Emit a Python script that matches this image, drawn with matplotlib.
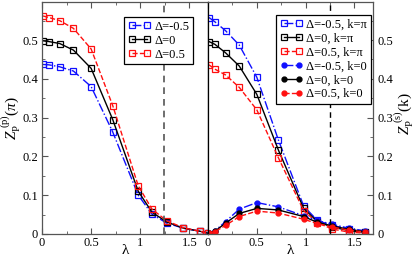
import numpy as np
import matplotlib
matplotlib.use('Agg')
import matplotlib.pyplot as plt
from matplotlib.ticker import MultipleLocator

plt.rcParams['font.family'] = 'serif'
plt.rcParams['font.serif'] = ['Liberation Serif', 'DejaVu Serif']
plt.rcParams['mathtext.fontset'] = 'custom'
plt.rcParams['mathtext.rm'] = 'Liberation Serif'
plt.rcParams['mathtext.it'] = 'Liberation Serif:italic'

# lambda grid (same for both panels)
lam = [0.01, 0.07, 0.18, 0.32, 0.5, 0.72, 0.98, 1.12, 1.27, 1.44, 1.61, 1.69]
lam_r = lam[:11]

# left panel: Z_P^(p)(pi)
zp_m05 = [0.437, 0.436, 0.431, 0.420, 0.380, 0.263, 0.100, 0.051, 0.028, 0.015, 0.007, 0.002]
zp_0 = [0.498, 0.496, 0.491, 0.474, 0.427, 0.295, 0.110, 0.056, 0.031, 0.015, 0.007, 0.002]
zp_p05 = [0.562, 0.558, 0.550, 0.530, 0.477, 0.331, 0.124, 0.064, 0.034, 0.016, 0.007, 0.002]

# right panel: Z_P^(s)(k), k = pi
zs_pi_m05 = [0.558, 0.547, 0.524, 0.487, 0.404, 0.243, 0.072, 0.035, 0.022, 0.013, 0.006]
zs_pi_0 = [0.496, 0.489, 0.467, 0.433, 0.360, 0.217, 0.066, 0.032, 0.018, 0.009, 0.004]
zs_pi_p05 = [0.436, 0.425, 0.410, 0.378, 0.320, 0.197, 0.060, 0.029, 0.013, 0.005, 0.002]

# right panel: k = 0
zs_0_m05 = [0.002, 0.008, 0.032, 0.064, 0.081, 0.070, 0.047, 0.035, 0.025, 0.015, 0.008]
zs_0_0 = [0.002, 0.007, 0.028, 0.053, 0.066, 0.062, 0.045, 0.030, 0.021, 0.012, 0.006]
zs_0_p05 = [0.002, 0.006, 0.022, 0.045, 0.059, 0.054, 0.038, 0.027, 0.018, 0.010, 0.005]

lam_c = 1.245
deltas = ['-0.5', '0', '0.5']
colors = ['#1010ff', 'black', '#ff1010']
styles = ['-.', '-', '--']

fig = plt.figure(figsize=(4.15, 2.61), dpi=100)
ax1 = fig.add_axes([42/415, 27/261, 166/415, 232/261])
ax2 = fig.add_axes([208/415, 27/261, 165/415, 232/261])

sq = dict(marker='s', markersize=4.2, markerfacecolor='none', markeredgewidth=0.9, linewidth=1.0)
ci = dict(marker='o', markersize=3.5, linewidth=1.0)

for y, c, ls, d in zip([zp_m05, zp_0, zp_p05], colors, styles, deltas):
    ax1.plot(lam, y, color=c, linestyle=ls, label='Δ=' + d, **sq)
ax1.axvline(lam_c, color='#555555', linestyle='--', linewidth=1.2, dashes=(4, 3))

for y, c, ls, d in zip([zs_pi_m05, zs_pi_0, zs_pi_p05], colors, styles, deltas):
    ax2.plot(lam_r, y, color=c, linestyle=ls, label='Δ=' + d + ', k=π', **sq)
for y, c, ls, d in zip([zs_0_m05, zs_0_0, zs_0_p05], colors, styles, deltas):
    ax2.plot(lam_r, y, color=c, linestyle=ls, label='Δ=' + d + ', k=0', **ci)
ax2.axvline(lam_c, color='black', linestyle='--', linewidth=1.0, dashes=(4, 3))

for ax in (ax1, ax2):
    ax.set_xlim(0, 1.69)
    ax.set_ylim(0, 0.598)
    ax.xaxis.set_minor_locator(MultipleLocator(0.25))
    ax.yaxis.set_minor_locator(MultipleLocator(0.05))
    ax.set_xticks([0, 0.5, 1, 1.5])
    ax.set_xticklabels(['0', '0.5', '1', '1.5'])
    ax.set_yticks([0, 0.1, 0.2, 0.3, 0.4, 0.5])
    ax.set_yticklabels(['0', '0.1', '0.2', '0.3', '0.4', '0.5'])
    ax.set_xlabel('λ', fontsize=11)
    ax.xaxis.set_label_coords(0.5, -0.045)
    for s in ax.spines.values():
        s.set_color('#555555')
        s.set_linewidth(0.9)
    ax.tick_params(which='major', direction='in', length=4, labelsize=9, colors='#555555', labelcolor='black')
    ax.tick_params(which='minor', direction='in', length=2, colors='#555555')
    ax.tick_params(axis='x', top=True, which='both', pad=2)

ax1.tick_params(axis='y', which='both', left=True, right=False, pad=3)
ax1.spines['right'].set_color('black')
ax1.set_ylabel(r'$Z_{\mathrm{P}}^{\ (\mathrm{p})}(\pi)$', fontsize=11)
ax1.yaxis.set_label_coords(-0.12, 0.5)

ax2.yaxis.tick_right()
ax2.tick_params(axis='y', which='both', left=False, right=True, pad=3)
ax2.spines['left'].set_color('black')
ax2.yaxis.set_label_position('right')
ax2.set_ylabel(r'$Z_{\mathrm{P}}^{\ (\mathrm{s})}(\mathrm{k})$', fontsize=11, rotation=90)
ax2.yaxis.set_label_coords(1.115, 0.52)

leg_kw = dict(fontsize=9, numpoints=2, handlelength=1.8, handletextpad=0.3,
              labelspacing=0.15, borderpad=0.3, borderaxespad=0, fancybox=False,
              framealpha=1, edgecolor='black')
l1 = ax1.legend(loc='upper right', bbox_to_anchor=(0.91, 0.935), **leg_kw)
l1.get_frame().set_linewidth(0.9)
l2 = ax2.legend(loc='upper right', bbox_to_anchor=(0.988, 0.944), **leg_kw)
l2.get_frame().set_linewidth(0.9)

fig.savefig('out.png', dpi=100)
